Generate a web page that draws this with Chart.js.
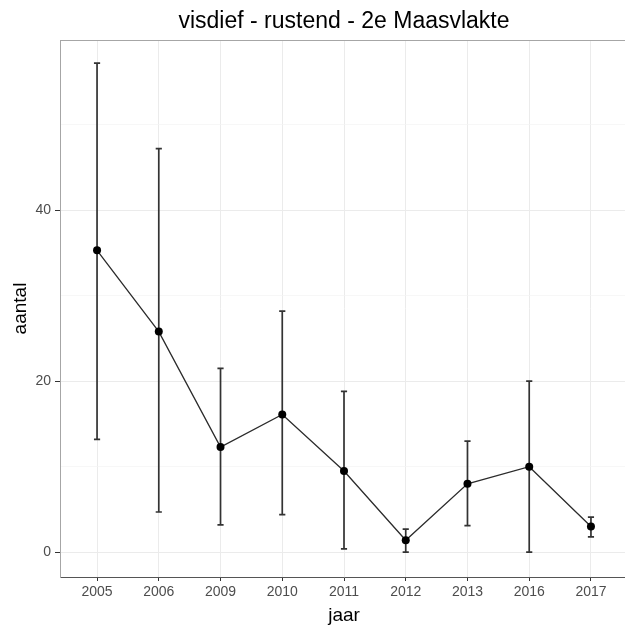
<!DOCTYPE html>
<html>
<head>
<meta charset="utf-8">
<script src="https://cdn.jsdelivr.net/npm/chart.js@4/dist/chart.umd.min.js"></script>
<style>
  html, body { margin: 0; padding: 0; background: #fff; overflow: hidden; width: 625px; height: 628px; }
  canvas { display: block; }
</style>
</head>
<body>
<canvas id="c" width="640" height="628"></canvas>
<script>
// Yearly counts (mean with lower/upper bounds)
const years = ['2005', '2006', '2009', '2010', '2011', '2012', '2013', '2016', '2017'];
const mean  = [35.3, 25.8, 12.3, 16.1, 9.5, 1.4, 8.0, 10.0, 3.0];
const lower = [13.2, 4.7, 3.2, 4.4, 0.4, 0.0, 3.1, 0.0, 1.8];
const upper = [57.2, 47.2, 21.5, 28.2, 18.8, 2.7, 13.0, 20.0, 4.1];
const yMajor = [0, 20, 40];
const yMinor = [10, 30, 50];

const FONT = "'Liberation Sans', Arial, sans-serif";

// Vertical error bars with small caps, drawn beneath the line and points
const errorBars = {
  id: 'errorBars',
  beforeDatasetsDraw(chart) {
    const { ctx, scales: { x, y } } = chart;
    ctx.save();
    ctx.strokeStyle = '#333333';
    ctx.lineWidth = 1.7;
    const capHalf = 0.05;
    years.forEach((_, i) => {
      const px = x.getPixelForValue(i);
      const xl = x.getPixelForValue(i - capHalf);
      const xr = x.getPixelForValue(i + capHalf);
      const yl = y.getPixelForValue(lower[i]);
      const yu = y.getPixelForValue(upper[i]);
      ctx.beginPath();
      ctx.moveTo(px, yl); ctx.lineTo(px, yu);
      ctx.moveTo(xl, yl); ctx.lineTo(xr, yl);
      ctx.moveTo(xl, yu); ctx.lineTo(xr, yu);
      ctx.stroke();
    });
    ctx.restore();
  }
};

// Top edge of the panel frame
const panelTop = {
  id: 'panelTop',
  afterDraw(chart) {
    const { ctx, chartArea: a } = chart;
    ctx.save();
    ctx.strokeStyle = '#a6a6a6';
    ctx.lineWidth = 1;
    ctx.beginPath();
    ctx.moveTo(a.left, a.top + 0.5);
    ctx.lineTo(a.right, a.top + 0.5);
    ctx.stroke();
    ctx.restore();
  }
};

const yTicks = yMajor.concat(yMinor).sort((a, b) => a - b);

new Chart(document.getElementById('c'), {
  type: 'line',
  data: {
    datasets: [{
      data: mean.map((m, i) => ({ x: i, y: m })),
      borderColor: '#2b2b2b',
      borderWidth: 1.3,
      pointRadius: 4,
      pointBackgroundColor: '#000000',
      pointBorderWidth: 0,
      tension: 0
    }]
  },
  options: {
    responsive: false,
    animation: false,
    layout: { padding: { left: 0, right: 12, top: 0, bottom: 0 } },
    plugins: {
      legend: { display: false },
      tooltip: { enabled: false },
      title: {
        display: true,
        fullSize: false,
        text: 'visdief - rustend - 2e Maasvlakte',
        color: '#000000',
        font: { family: FONT, size: 23, weight: 'normal' },
        padding: { top: 8, bottom: 4.4 }
      }
    },
    scales: {
      x: {
        type: 'linear',
        min: -0.6,
        max: 8.6,
        afterBuildTicks: s => { s.ticks = years.map((_, i) => ({ value: i })); },
        afterFit: s => { s.height = 51; },
        ticks: {
          autoSkip: false,
          maxRotation: 0,
          padding: 3,
          color: '#4d4d4d',
          font: { family: FONT, size: 14 },
          callback: v => years[v]
        },
        grid: { color: '#ebebeb', lineWidth: 1, tickLength: 4, tickColor: '#333333' },
        border: { display: true, color: '#555555', width: 1 },
        title: {
          display: true,
          text: 'jaar',
          color: '#000000',
          font: { family: FONT, size: 19 },
          padding: { top: 0, bottom: 1 }
        }
      },
      y: {
        type: 'linear',
        min: -2.9,
        max: 59.9,
        afterBuildTicks: s => { s.ticks = yTicks.map(v => ({ value: v })); },
        afterFit: s => { s.width = 60; },
        ticks: {
          autoSkip: false,
          padding: 4,
          color: '#4d4d4d',
          font: { family: FONT, size: 14 },
          callback: v => (yMajor.includes(v) ? String(v) : '')
        },
        grid: {
          color: c => (yMajor.includes(c.tick && c.tick.value) ? '#ebebeb' : '#f4f4f4'),
          lineWidth: c => (yMajor.includes(c.tick && c.tick.value) ? 1 : 0.7),
          tickLength: 5,
          tickColor: c => (yMajor.includes(c.tick && c.tick.value) ? '#333333' : 'rgba(0,0,0,0)')
        },
        border: { display: true, color: '#a6a6a6', width: 1 },
        title: {
          display: true,
          text: 'aantal',
          color: '#000000',
          font: { family: FONT, size: 19 },
          padding: { top: 9, bottom: 0 }
        }
      }
    }
  },
  plugins: [errorBars, panelTop]
});
</script>
</body>
</html>
